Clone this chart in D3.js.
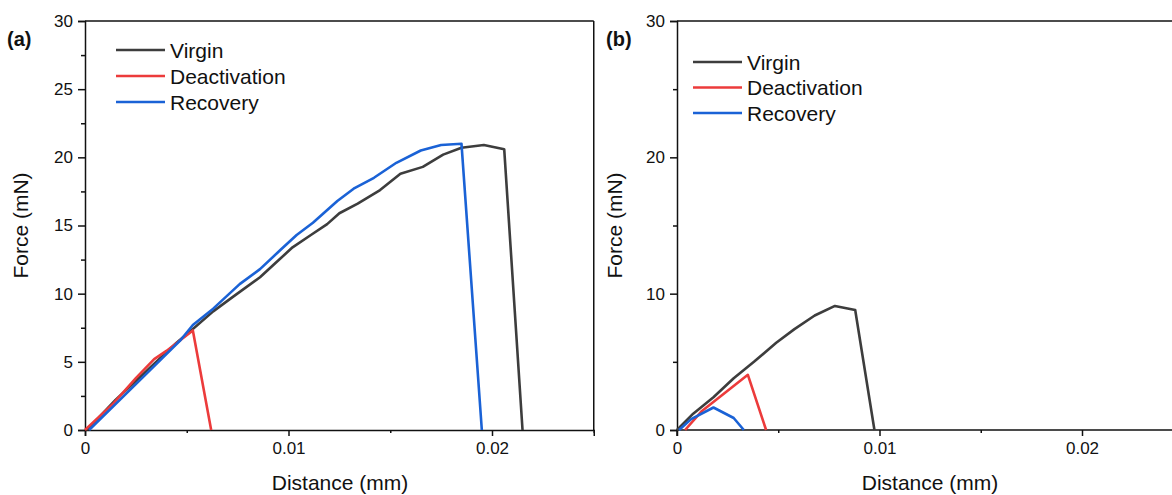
<!DOCTYPE html>
<html>
<head>
<meta charset="utf-8">
<script src="https://cdn.jsdelivr.net/npm/d3@7"></script>
<style>
  html, body { margin: 0; padding: 0; background: #fff; }
  svg { display: block; }
  text { font-family: "Liberation Sans", Arial, sans-serif; fill: #111; }
</style>
</head>
<body>
<svg id="chart" width="1172" height="495"></svg>
<script>
// ---------- data ----------
const seriesNames = ["Virgin", "Deactivation", "Recovery"];
const seriesColors = ["#3d3d3d", "#ec3b3b", "#1a62d6"];

// Panel (a)
const virginA_x = [0.0001, 0.0015, 0.003, 0.0045, 0.0053, 0.0063, 0.0073, 0.0086, 0.0094, 0.0102, 0.0111, 0.0119, 0.0125, 0.0134, 0.0145, 0.0155, 0.0166, 0.0176, 0.0185, 0.0196, 0.0206, 0.0215];
const virginA_y = [0, 2.2, 4.3, 6.4, 7.4, 8.7, 9.8, 11.2, 12.3, 13.4, 14.3, 15.1, 15.9, 16.6, 17.6, 18.8, 19.3, 20.2, 20.7, 20.9, 20.6, 0];
const deactA_x = [0, 0.0014, 0.0025, 0.0034, 0.004, 0.0053, 0.0062];
const deactA_y = [0, 1.95, 3.8, 5.2, 5.8, 7.3, 0];
const recovA_x = [0.0002, 0.0015, 0.003, 0.0047, 0.0053, 0.0063, 0.0076, 0.0086, 0.0096, 0.0104, 0.0112, 0.0124, 0.0132, 0.0142, 0.0153, 0.0165, 0.0175, 0.0185, 0.0195];
const recovA_y = [0, 1.9, 4.1, 6.6, 7.7, 8.9, 10.7, 11.8, 13.2, 14.3, 15.2, 16.8, 17.7, 18.5, 19.6, 20.5, 20.9, 21.0, 0];

// Panel (b)
const virginB_x = [0, 0.0008, 0.0018, 0.0028, 0.0038, 0.0049, 0.0058, 0.0068, 0.0078, 0.0088, 0.00975];
const virginB_y = [0, 1.2, 2.4, 3.8, 5.0, 6.4, 7.4, 8.4, 9.1, 8.8, 0];
const deactB_x = [0.0004, 0.0012, 0.0035, 0.0044];
const deactB_y = [0, 1.35, 4.05, 0];
const recovB_x = [0.0001, 0.0007, 0.0018, 0.0028, 0.0033];
const recovB_y = [0, 0.8, 1.65, 0.88, 0];

// ticks
const xTicks = [0, 0.01, 0.02];
const xTickLabels = ["0", "0.01", "0.02"];
const xMinorTicks = [0.005, 0.015, 0.025];
const yTicksA = [0, 5, 10, 15, 20, 25, 30];
const yMinorA = [2.5, 7.5, 12.5, 17.5, 22.5, 27.5];
const yTicksB = [0, 10, 20, 30];
const yMinorB = [5, 15, 25];
const xTitle = "Distance (mm)";
const yTitle = "Force (mN)";

// ---------- drawing ----------
const svg = d3.select("#chart");

function panel(cfg) {
  const g = svg.append("g");
  const x = d3.scaleLinear().domain([0, 0.025]).range([cfg.left, cfg.left + cfg.pxPerUnit * 0.025]);
  const y = d3.scaleLinear().domain([0, 30]).range([430, 21]);
  const xEnd = Math.min(x(0.025), 1172);

  // frame (top / right)
  g.append("line").attr("x1", x(0)).attr("x2", xEnd + (cfg.right ? 0 : 2))
    .attr("y1", y(30)).attr("y2", y(30)).attr("stroke", "#111").attr("stroke-width", 1.5);
  if (cfg.right) {
    g.append("line").attr("x1", x(0.025)).attr("x2", x(0.025))
      .attr("y1", y(30)).attr("y2", y(0)).attr("stroke", "#111").attr("stroke-width", 1.5);
  }

  // x axis
  const xa = g.append("g").attr("transform", `translate(0,${y(0)})`)
    .call(d3.axisBottom(x).tickValues(xTicks).tickSize(6).tickPadding(6)
      .tickFormat((d, i) => xTickLabels[i]));
  const xm = g.append("g").attr("transform", `translate(0,${y(0)})`)
    .call(d3.axisBottom(x).tickValues(xMinorTicks).tickSize(3).tickFormat(""));
  xm.select(".domain").remove();
  // y axis
  const ya = g.append("g").attr("transform", `translate(${x(0)},0)`)
    .call(d3.axisLeft(y).tickValues(cfg.yTicks).tickSize(7).tickPadding(5));
  const ym = g.append("g").attr("transform", `translate(${x(0)},0)`)
    .call(d3.axisLeft(y).tickValues(cfg.yMinor).tickSize(4).tickFormat(""));
  ym.select(".domain").remove();

  [xa, ya, xm, ym].forEach(a => {
    a.selectAll(".domain").attr("stroke", "#111").attr("stroke-width", 1.5);
    a.selectAll(".tick line").attr("stroke", "#111").attr("stroke-width", 1.5);
    a.selectAll(".tick text").style("font-size", "17px")
      .style("font-family", '"Liberation Sans", Arial, sans-serif').attr("fill", "#111");
  });
  if (!cfg.right) xa.select(".domain").attr("d", `M${x(0)},6V0H${xEnd + 2}`);

  // series
  const line = d3.line().x(d => x(d[0])).y(d => y(d[1]));
  cfg.series.forEach((s, i) => {
    const pts = s.xs.map((v, k) => [v, s.ys[k]]);
    g.append("path").datum(pts).attr("d", line)
      .attr("fill", "none").attr("stroke", seriesColors[i])
      .attr("stroke-width", 2.6).attr("stroke-linejoin", "round");
  });

  // axis titles
  g.append("text").attr("x", cfg.xTitleX).attr("y", 490)
    .attr("text-anchor", "middle").style("font-size", "21px").text(xTitle);
  g.append("text").attr("transform", `translate(${cfg.yTitleX},${(y(0) + y(30)) / 2}) rotate(-90)`)
    .attr("text-anchor", "middle").style("font-size", "21px").text(yTitle);

  // panel label
  g.append("text").attr("x", cfg.labelX).attr("y", 46)
    .style("font-size", "20px").style("font-weight", "bold").text(cfg.label);

  // legend
  seriesNames.forEach((n, i) => {
    const ly = cfg.legY + i * cfg.legStep;
    g.append("line").attr("x1", cfg.legX).attr("x2", cfg.legX + 49)
      .attr("y1", ly).attr("y2", ly).attr("stroke", seriesColors[i]).attr("stroke-width", 2.6);
    g.append("text").attr("x", cfg.legX + 54).attr("y", ly + 7.5)
      .style("font-size", "21px").text(n);
  });
}

panel({
  left: 85, pxPerUnit: 20350, right: true,
  yTicks: yTicksA, yMinor: yMinorA,
  xTitleX: 340, yTitleX: 28, label: "(a)", labelX: 7,
  legX: 116, legY: 50, legStep: 26,
  series: [
    { xs: virginA_x, ys: virginA_y },
    { xs: deactA_x, ys: deactA_y },
    { xs: recovA_x, ys: recovA_y }
  ]
});

panel({
  left: 677, pxPerUnit: 20250, right: false,
  yTicks: yTicksB, yMinor: yMinorB,
  xTitleX: 930, yTitleX: 622, label: "(b)", labelX: 606,
  legX: 693, legY: 62, legStep: 25.5,
  series: [
    { xs: virginB_x, ys: virginB_y },
    { xs: deactB_x, ys: deactB_y },
    { xs: recovB_x, ys: recovB_y }
  ]
});
</script>
</body>
</html>
